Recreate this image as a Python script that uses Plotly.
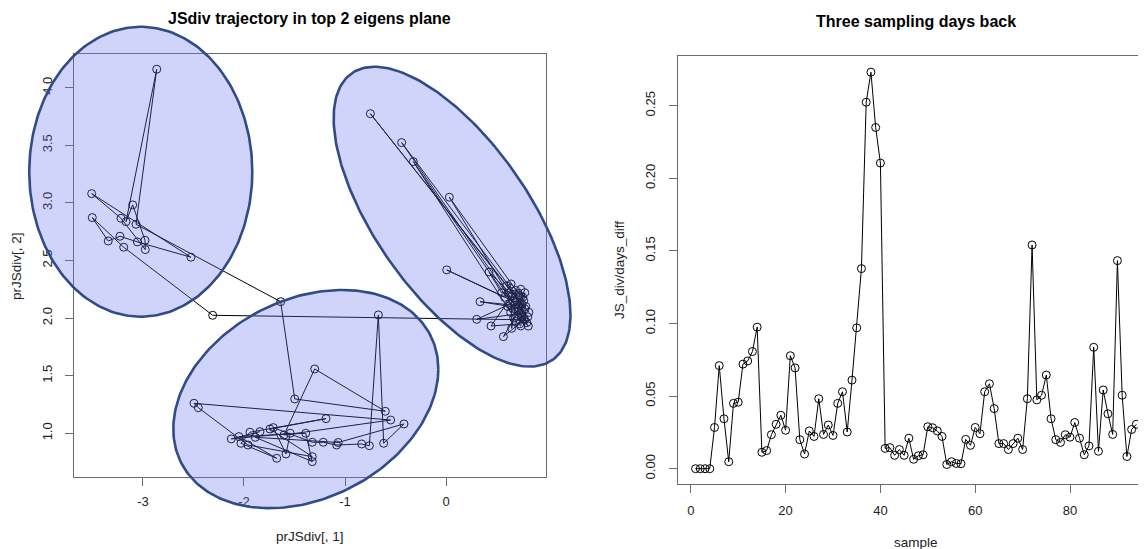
import numpy as np
import plotly.graph_objects as go

# page has an 8px body margin: figure drawn at screen offset (8, 8)
SCREEN_W, SCREEN_H, OFF = 1146, 549, 8
W, H = SCREEN_W - OFF, SCREEN_H - OFF

# ---------------- Left panel data: trajectory in top-2 eigen plane ----------------
traj_x = [
    # cluster C (right)
    0.72, 0.62, 0.58, 0.007, 0.66, 0.75, -0.749, 0.78, 0.74, 0.55, 0.426, 0.70, 0.80, -0.439,
    0.82, 0.60, 0.644, 0.76, 0.64, -0.324, 0.68, 0.79, 0.337, 0.71, 0.77, 0.033, 0.77, 0.63,
    0.304, 0.74, 0.69, 0.446, 0.73, 0.72, 0.568, 0.81, 0.65, 0.650, 0.67, 0.78, 0.740, 0.69,
    0.61, 0.815, 0.75, 0.78,
    # cluster A (upper left)
    -2.310, -3.191, -3.502, -3.344, -3.228, -3.056, -2.525, -3.508, -3.218, -2.977, -2.980,
    -3.102, -3.168, -2.864, -3.069,
    # cluster B (bottom)
    -1.637, -1.498, -0.601, -1.300, -1.604, -0.548, -2.495, -2.452, -1.960, -1.324, -1.743,
    -1.188, -1.941, -2.030, -1.676, -2.050, -1.389, -1.324, -1.888, -1.067, -0.416, -0.617,
    -0.670, -0.759, -0.835, -1.083, -1.215, -1.324, -1.710, -1.584, -1.542, -2.126, -1.842,
]
traj_y = [
    2.20, 2.22, 2.18, 2.418, 2.15, 2.12, 3.774, 2.08, 2.25, 2.22, 2.400, 2.16, 1.96, 3.523,
    2.05, 2.28, 2.296, 2.18, 2.05, 3.358, 2.08, 2.10, 2.142, 2.09, 2.15, 3.049, 1.99, 2.12,
    1.989, 2.04, 2.24, 1.931, 1.95, 2.06, 1.839, 2.01, 2.19, 1.911, 2.00, 2.22, 1.931, 1.97,
    2.10, 1.931, 2.01, 1.985,
    2.024, 2.615, 2.872, 2.669, 2.710, 2.661, 2.528, 3.080, 2.866, 2.594, 2.675,
    2.982, 2.837, 4.160, 2.814,
    2.142, 1.298, 1.191, 1.558, 0.985, 1.115, 1.260, 1.222, 0.898, 0.797, 1.037,
    1.127, 1.009, 0.913, 0.783, 0.971, 1.000, 0.754, 0.965, 0.920, 1.081, 0.913,
    2.027, 0.892, 0.907, 0.898, 0.922, 0.922, 1.049, 0.820, 1.000, 0.951, 1.014,
]

# ellipses: centre and covariance-like shape (data units)
ell_cx = [-3.022, -1.388, 0.06]
ell_cy = [3.27, 1.297, 2.88]
ell_sxx = [1.219, 1.721, 1.374]
ell_syy = [1.583, 0.897, 1.693]
ell_sxy = [0.0, 0.34, -1.0]

# ---------------- Right panel data ----------------
js_div = [
    0.0, 0.0, 0.0, 0.0, 0.0284, 0.071, 0.0344, 0.0048, 0.045, 0.0458,
    0.072, 0.0742, 0.0807, 0.0975, 0.0113, 0.0125, 0.0234, 0.0306, 0.0368, 0.0265,
    0.0778, 0.0694, 0.020, 0.0101, 0.026, 0.0222, 0.0482, 0.0236, 0.0301, 0.0229,
    0.045, 0.053, 0.0253, 0.061, 0.097, 0.1378, 0.2524, 0.2731, 0.235, 0.2105,
    0.014, 0.0145, 0.0092, 0.0132, 0.0092, 0.021, 0.0065, 0.0089, 0.0096, 0.0289,
    0.0282, 0.026, 0.0222, 0.0029, 0.0048, 0.0036, 0.0034, 0.0202, 0.0161, 0.0284,
    0.0241, 0.053, 0.0585, 0.0414, 0.0173, 0.0173, 0.0132, 0.0173, 0.021, 0.0132,
    0.0482, 0.1541, 0.0474, 0.0506, 0.0645, 0.0344, 0.020, 0.0181, 0.0234, 0.0217,
    0.0318, 0.021, 0.0096, 0.0157, 0.0836, 0.012, 0.0542, 0.0378, 0.0236, 0.1433,
    0.0506, 0.0084, 0.027, 0.0306,
]
samples = list(range(1, len(js_div) + 1))

left_xticks = [-3, -2, -1, 0]
left_xtext = ["-3", "-2", "-1", "0"]
left_yticks = [1.0, 1.5, 2.0, 2.5, 3.0, 3.5, 4.0]
left_ytext = ["1.0", "1.5", "2.0", "2.5", "3.0", "3.5", "4.0"]
right_xticks = [0, 20, 40, 60, 80]
right_xtext = ["0", "20", "40", "60", "80"]
right_yticks = [0.0, 0.05, 0.10, 0.15, 0.20, 0.25]
right_ytext = ["0.00", "0.05", "0.10", "0.15", "0.20", "0.25"]


def px(sx):
    return (sx - OFF) / W


def py(sy):
    return 1 - (sy - OFF) / H


# ---------------- layout geometry (screen pixels -> paper) ----------------
LXD = [px(74), px(546)]
LYD = [py(476.7), py(54)]
LXR = [-3.683, 0.990]
LYR = [0.623, 4.292]
RXD = [px(678), 1.0]
RYD = [py(484), py(56)]
RXR = [-2.70, 96.03]
RYR = [-0.01054, 0.28423]


def full_range(rng, dom):
    s = (rng[1] - rng[0]) / (dom[1] - dom[0])
    return [rng[0] - dom[0] * s, rng[0] + (1 - dom[0]) * s]


FONT = "Liberation Sans, Arial, Helvetica, sans-serif"
AX_COL = "#6b6b6b"
TXT_COL = "#222222"

fig = go.Figure()

fig.add_trace(go.Scatter(
    x=traj_x, y=traj_y, mode="lines+markers", xaxis="x", yaxis="y",
    line=dict(color="black", width=1),
    marker=dict(symbol="circle-open", size=8, color="black", line=dict(width=1)),
    showlegend=False, hoverinfo="skip",
))

t = np.linspace(0, 2 * np.pi, 240)
for cx, cy, sxx, syy, sxy in zip(ell_cx, ell_cy, ell_sxx, ell_syy, ell_sxy):
    a11 = np.sqrt(sxx)
    a21 = sxy / a11
    a22 = np.sqrt(syy - a21 ** 2)
    ex = cx + a11 * np.cos(t)
    ey = cy + a21 * np.cos(t) + a22 * np.sin(t)
    fig.add_trace(go.Scatter(
        x=ex, y=ey, mode="lines", fill="toself", xaxis="x3", yaxis="y3",
        fillcolor="rgba(100,110,240,0.30)",
        line=dict(color="#2f4b88", width=2.6),
        showlegend=False, hoverinfo="skip",
    ))

fig.add_trace(go.Scatter(
    x=samples, y=js_div, mode="lines+markers", xaxis="x2", yaxis="y2",
    line=dict(color="black", width=1),
    marker=dict(symbol="circle-open", size=8, color="black", line=dict(width=1)),
    showlegend=False, hoverinfo="skip",
))

axis_common = dict(
    showgrid=False, zeroline=False, ticks="outside", ticklen=8, tickwidth=1,
    tickcolor=AX_COL, linecolor=AX_COL, linewidth=1, showline=True,
    tickfont=dict(family=FONT, size=13, color=TXT_COL), fixedrange=True,
)

fig.update_layout(
    width=W, height=H,
    margin=dict(l=0, r=0, t=0, b=0),
    paper_bgcolor="white", plot_bgcolor="rgba(0,0,0,0)",
    xaxis=dict(domain=LXD, range=LXR, anchor="y", mirror=True, ticklabelstandoff=5,
               tickmode="array", tickvals=left_xticks, ticktext=left_xtext, **axis_common),
    yaxis=dict(domain=LYD, range=LYR, anchor="x", mirror=True, tickangle=-90,
               ticklabelstandoff=8,
               tickmode="array", tickvals=left_yticks, ticktext=left_ytext, **axis_common),
    xaxis2=dict(domain=RXD, range=RXR, anchor="y2", mirror=True, ticklabelstandoff=6,
                tickmode="array", tickvals=right_xticks, ticktext=right_xtext, **axis_common),
    yaxis2=dict(domain=RYD, range=RYR, anchor="x2", mirror=False, tickangle=-90,
                ticklabelstandoff=9,
                tickmode="array", tickvals=right_yticks, ticktext=right_ytext, **axis_common),
    xaxis3=dict(domain=[0, 1], range=full_range(LXR, LXD), anchor="y3", visible=False,
                fixedrange=True),
    yaxis3=dict(domain=[0, 1], range=full_range(LYR, LYD), anchor="x3", visible=False,
                fixedrange=True),
    annotations=[
        dict(text="<b>JSdiv trajectory in top 2 eigens plane</b>", x=px(310), y=py(18),
             xref="paper", yref="paper", showarrow=False,
             font=dict(family=FONT, size=16, color="black"), xanchor="center", yanchor="middle"),
        dict(text="<b>Three sampling days back</b>", x=px(916), y=py(22),
             xref="paper", yref="paper", showarrow=False,
             font=dict(family=FONT, size=16, color="black"), xanchor="center", yanchor="middle"),
        dict(text="prJSdiv[, 1]", x=px(310), y=py(536), xref="paper", yref="paper",
             showarrow=False, font=dict(family=FONT, size=13.5, color=TXT_COL),
             xanchor="center", yanchor="middle"),
        dict(text="prJSdiv[, 2]", x=px(16), y=py(266), xref="paper", yref="paper",
             showarrow=False, textangle=-90, font=dict(family=FONT, size=13.5, color=TXT_COL),
             xanchor="center", yanchor="middle"),
        dict(text="sample", x=px(916), y=py(542), xref="paper", yref="paper",
             showarrow=False, font=dict(family=FONT, size=13.5, color=TXT_COL),
             xanchor="center", yanchor="middle"),
        dict(text="JS_div/days_diff", x=px(619), y=py(270), xref="paper", yref="paper",
             showarrow=False, textangle=-90, font=dict(family=FONT, size=13.5, color=TXT_COL),
             xanchor="center", yanchor="middle"),
    ],
)

fig.write_html("out.html")
